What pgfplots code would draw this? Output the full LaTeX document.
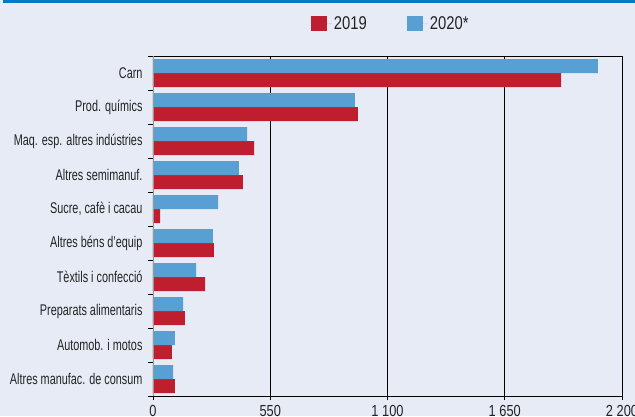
\documentclass[border=0pt]{standalone}
\usepackage{pgfplots}
\pgfplotsset{compat=1.18}
\usepackage{fontspec}
\setmainfont{Liberation Sans}[FakeStretch=0.8]
\newfontfamily\labfont{Liberation Sans}[FakeStretch=0.70]
\newfontfamily\legfont{Liberation Sans}[FakeStretch=0.8]
\definecolor{bg}{RGB}{230,235,246}
\definecolor{topblue}{RGB}{0,122,194}
\definecolor{cred}{RGB}{190,30,45}
\definecolor{cblue}{RGB}{88,160,211}
\definecolor{txt}{RGB}{35,35,35}
\begin{document}
\begin{tikzpicture}[x=1pt,y=1pt]
\fill[bg] (0,0) rectangle (635,416);
\fill[topblue] (3,413) rectangle (635,416);
\useasboundingbox (0,0) rectangle (635,416);
\begin{axis}[
  at={(153pt,20pt)}, anchor=south west, scale only axis,
  width=469pt, height=340pt,
  xbar, xmin=0, xmax=2200, ymin=-0.5, ymax=9.5,
  bar width=14pt,
  axis line style={black, line width=0.9pt},
  xtick={0,550,1100,1650,2200},
  xmajorgrids, major grid style={black, line width=0.9pt},
  xtick pos=bottom, ytick pos=left,
  tick align=outside,
  major tick length=4pt,
  x tick style={black, line width=0.9pt},
  ytick={0,...,9},
  y tick style={draw=none},
  minor ytick={-0.5,0.5,1.5,2.5,3.5,4.5,5.5,6.5,7.5,8.5,9.5},
  minor tick length=5pt,
  minor y tick style={draw=black, line width=0.9pt},
  yticklabels={Altres manufac. de consum, Automob. i motos, Preparats alimentaris, Tèxtils i confecció, Altres béns d’equip, {Sucre, cafè i cacau}, Altres semimanuf., Maq. esp. altres indústries, Prod. químics, Carn},
  yticklabel style={font=\labfont\fontsize{15.5}{17}\selectfont, text=txt, xshift=-3pt},
  xticklabel style={font=\legfont\fontsize{16}{18}\selectfont, text=txt, yshift=-2pt},
  /pgf/number format/.cd, 1000 sep={\ }, assume math mode=true,
  /pgfplots/.cd,
  legend style={at={(rel axis cs:0.507,1.096)}, anchor=center, draw=none, fill=none,
    font=\legfont\fontsize{18.5}{20}\selectfont, text=txt,
    /tikz/every even column/.append style={column sep=38pt}},
  legend columns=2,
  legend image code/.code={\fill[#1] (0pt,-7.5pt) rectangle (16pt,7.5pt); \path (0pt,0pt) -- (21pt,0pt);},
]
\addplot[fill=cred, draw=none, bar shift=-7pt] coordinates {
(103,0) (89,1) (150,2) (244,3) (286,4) (33,5) (422,6) (474,7) (961,8) (1914,9)};
\addplot[fill=cblue, draw=none, bar shift=7pt] coordinates {
(94,0) (103,1) (141,2) (202,3) (281,4) (305,5) (403,6) (441,7) (947,8) (2087,9)};
\legend{2019, 2020*}
\draw[gray!80, line width=1.4pt] (rel axis cs:0,0) -- (rel axis cs:0,1);
\end{axis}
\end{tikzpicture}
\end{document}
